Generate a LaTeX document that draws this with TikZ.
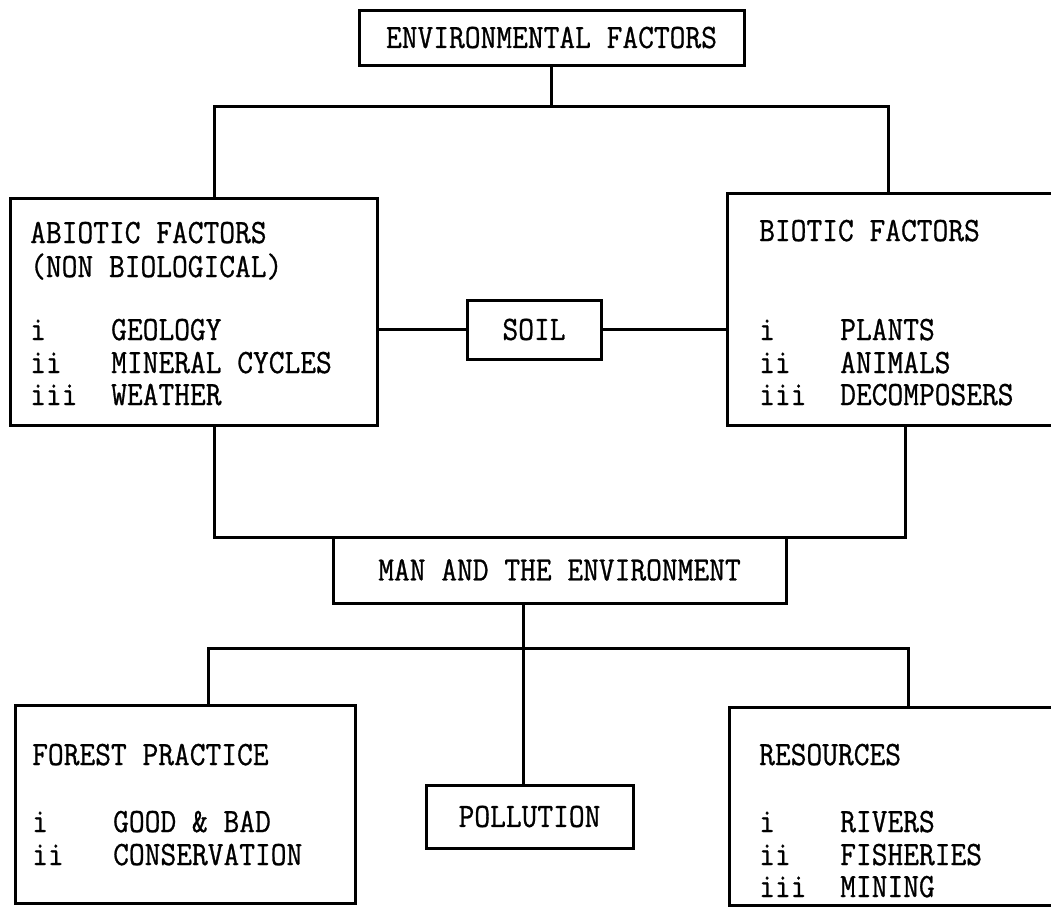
\documentclass[tikz,border=0pt]{standalone}
\usepackage{fontspec}
\setmonofont{Latin Modern Mono}[FakeStretch=0.9,FakeBold=0.8]
\newcommand\txtfont{\fontsize{34}{40}\selectfont\ttfamily}
\begin{document}
\begin{tikzpicture}[x=1pt,y=-1pt,
  box/.style={draw, rectangle, inner sep=0pt, line width=3pt, font=\txtfont},
  lbl/.style={anchor=base west, inner sep=0pt, font=\txtfont},
  conn/.style={line width=3pt}]
\useasboundingbox (0,0) rectangle (1051,908);
\clip (0,0) rectangle (1051,908);
% boxes
\node[box, minimum width=385pt, minimum height=55pt] (env) at (551.5,37.5) {ENVIRONMENTAL FACTORS};
\node[box, minimum width=367pt, minimum height=227pt] (abiotic) at (193.5,311.5) {};
\node[box, minimum width=343pt, minimum height=232pt] (biotic) at (898.5,309) {};
\node[box, minimum width=134pt, minimum height=59pt] (soil) at (534,329.5) {SOIL};
\node[box, minimum width=453pt, minimum height=66pt] (man) at (559.5,570) {MAN AND THE ENVIRONMENT};
\node[box, minimum width=340pt, minimum height=198pt] (forest) at (185,804) {};
\node[box, minimum width=207pt, minimum height=63pt] (pollution) at (529.5,816.5) {POLLUTION};
\node[box, minimum width=341pt, minimum height=198pt] (resources) at (899.5,806) {};
% texts
\node[lbl] (a1) at (30,243) {ABIOTIC FACTORS};
\node[lbl] (a2) at (30,277) {(NON BIOLOGICAL)};
\node[lbl] (a3) at (30,340) {i};
\node[lbl] (a4) at (111,340) {GEOLOGY};
\node[lbl] (a5) at (30,373) {ii};
\node[lbl] (a6) at (111,373) {MINERAL CYCLES};
\node[lbl] (a7) at (30,405) {iii};
\node[lbl] (a8) at (111,405) {WEATHER};
\node[lbl] (b1) at (759,241) {BIOTIC FACTORS};
\node[lbl] (b2) at (759,340) {i};
\node[lbl] (b3) at (840,340) {PLANTS};
\node[lbl] (b4) at (759,373) {ii};
\node[lbl] (b5) at (840,373) {ANIMALS};
\node[lbl] (b6) at (759,405) {iii};
\node[lbl] (b7) at (840,405) {DECOMPOSERS};
\node[lbl] (f1) at (32,765) {FOREST PRACTICE};
\node[lbl] (f2) at (32,832) {i};
\node[lbl] (f3) at (113,832) {GOOD \& BAD};
\node[lbl] (f4) at (32,865) {ii};
\node[lbl] (f5) at (113,865) {CONSERVATION};
\node[lbl] (r1) at (759,765) {RESOURCES};
\node[lbl] (r2) at (759,832) {i};
\node[lbl] (r3) at (840,832) {RIVERS};
\node[lbl] (r4) at (759,865) {ii};
\node[lbl] (r5) at (840,865) {FISHERIES};
\node[lbl] (r6) at (759,897) {iii};
\node[lbl] (r7) at (840,897) {MINING};
% connectors
\coordinate (jL) at (214,106);
\coordinate (jR) at (888,106);
\draw[conn] (env.south) -- (env.south |- jL);
\draw[conn] (jL |- abiotic.north) -- (jL) -- (jR) -- (jR |- biotic.north);
\draw[conn] (abiotic.east |- soil) -- (soil.west);
\draw[conn] (soil.east) -- (biotic.west |- soil);
\coordinate (mL) at (214,537);
\coordinate (mR) at (905,537);
\draw[conn] (mL |- abiotic.south) -- (mL) -- (mR) -- (mR |- biotic.south);
\coordinate (kC) at (523,648);
\coordinate (kL) at (208,648);
\coordinate (kR) at (908,648);
\draw[conn] (kC |- man.south) -- (kC);
\draw[conn] (kL |- forest.north) -- (kL) -- (kR) -- (kR |- resources.north);
\draw[conn] (kC) -- (kC |- pollution.north);
\end{tikzpicture}
\end{document}
